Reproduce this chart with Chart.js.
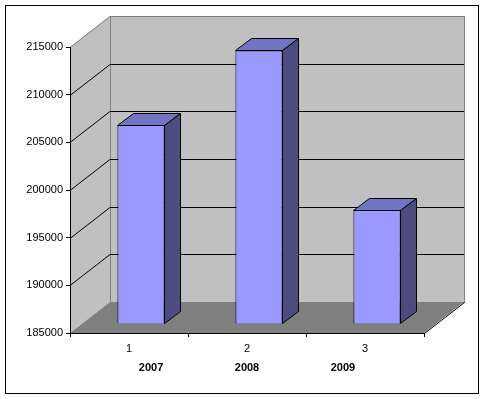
<!DOCTYPE html>
<html>
<head>
<meta charset="utf-8">
<script src="https://cdn.jsdelivr.net/npm/chart.js@4.4.0/dist/chart.umd.min.js"></script>
<style>
body { margin: 0; background: #fff; }
canvas { display: block; }
</style>
</head>
<body>
<canvas id="chart_test" width="485" height="399"></canvas>
<script>
// DATA
var categories = ['1', '2', '3'];
var years = [2007, 2008, 2009];
var totals = [205850, 213700, 196950];
var yMin = 185000, yMax = 215000, yStep = 5000;

// 3D LOOK: wall depth, bar offset in depth, bar depth
var WALL = { dx: 40, dy: -31 };
var BAR_OFF = { dx: 12, dy: -9 };
var BAR_D = { dx: 16, dy: -12 };

Chart.defaults.font.family = '"Liberation Sans", Arial, sans-serif';
Chart.defaults.font.size = 11;
Chart.defaults.color = '#000';

// walls + floor behind everything, extra bar faces after the bars
var box3d = {
	id: 'box3d',
	beforeDraw: function(chart) {
		var ctx = chart.ctx, a = chart.chartArea, ys = chart.scales.y;
		var L = a.left, R = a.right, T = a.top, B = a.bottom;
		var dx = WALL.dx, dy = WALL.dy;
		ctx.save();
		ctx.fillStyle = '#fff';
		ctx.fillRect(0, 0, chart.width, chart.height);
		ctx.strokeStyle = '#000';
		ctx.lineWidth = 1;
		ctx.strokeRect(5.5, 5.5, 473, 388);

		// back wall
		ctx.fillStyle = '#c0c0c0';
		ctx.fillRect(L + dx, T + dy, R - L, B - T);
		ctx.strokeStyle = '#808080';
		ctx.strokeRect(L + dx + 0.5, T + dy + 0.5, R - L, B - T);

		// side wall
		ctx.beginPath();
		ctx.moveTo(L, T);
		ctx.lineTo(L + dx, T + dy);
		ctx.lineTo(L + dx, B + dy);
		ctx.lineTo(L, B);
		ctx.closePath();
		ctx.fill();
		ctx.beginPath();
		ctx.moveTo(L, T + 0.5);
		ctx.lineTo(L + dx, T + dy + 0.5);
		ctx.stroke();
		ctx.beginPath();
		ctx.moveTo(L + dx + 0.5, T + dy);
		ctx.lineTo(L + dx + 0.5, B + dy);
		ctx.stroke();

		// gridlines
		ctx.strokeStyle = '#000';
		for (var v = yMin + yStep; v < yMax; v += yStep) {
			var y = Math.round(ys.getPixelForValue(v)) + 0.5;
			ctx.beginPath();
			ctx.moveTo(L, y);
			ctx.lineTo(L + dx, y + dy);
			ctx.lineTo(R + dx, y + dy);
			ctx.stroke();
		}

		// floor
		ctx.fillStyle = '#808080';
		ctx.beginPath();
		ctx.moveTo(L, B);
		ctx.lineTo(L + dx, B + dy);
		ctx.lineTo(R + dx, B + dy);
		ctx.lineTo(R, B);
		ctx.closePath();
		ctx.fill();
		ctx.beginPath();
		ctx.moveTo(R + 0.5, B + 0.5);
		ctx.lineTo(R + dx + 0.5, B + dy + 0.5);
		ctx.stroke();
		ctx.restore();
	},
	beforeDatasetsDraw: function(chart) {
		chart.ctx.save();
		chart.ctx.translate(BAR_OFF.dx, BAR_OFF.dy);
	},
	afterDatasetsDraw: function(chart) {
		var ctx = chart.ctx;
		ctx.strokeStyle = '#000';
		ctx.lineWidth = 1;
		chart.getDatasetMeta(0).data.forEach(function(bar) {
			var p = bar.getProps(['x', 'y', 'base', 'width'], true);
			var l = Math.round(p.x - p.width / 2) + 0.5, r = Math.round(p.x + p.width / 2) - 0.5;
			var t = Math.round(p.y) + 0.5, b = Math.round(p.base) - 0.5;
			// top
			ctx.fillStyle = '#7474c4';
			ctx.beginPath();
			ctx.moveTo(l, t);
			ctx.lineTo(l + BAR_D.dx, t + BAR_D.dy);
			ctx.lineTo(r + BAR_D.dx, t + BAR_D.dy);
			ctx.lineTo(r, t);
			ctx.closePath();
			ctx.fill();
			ctx.stroke();
			// side
			ctx.fillStyle = '#4c4c80';
			ctx.beginPath();
			ctx.moveTo(r, t);
			ctx.lineTo(r + BAR_D.dx, t + BAR_D.dy);
			ctx.lineTo(r + BAR_D.dx, b + BAR_D.dy);
			ctx.lineTo(r, b);
			ctx.closePath();
			ctx.fill();
			ctx.stroke();
		});
		ctx.restore();
	}
};

var ctx = document.getElementById('chart_test').getContext('2d');
var chart = new Chart(ctx, {
	type: 'bar',
	data: {
		labels: categories,
		datasets: [{
			data: totals,
			base: yMin,
			backgroundColor: '#9999ff',
			borderColor: '#000',
			borderWidth: 1,
			barPercentage: 0.4,
			categoryPercentage: 1,
			clip: false
		}]
	},
	options: {
		responsive: false,
		animation: false,
		layout: { padding: { left: 10, top: 47, right: 61, bottom: 14 } },
		plugins: { legend: { display: false }, tooltip: { enabled: false } },
		scales: {
			y: {
				min: yMin,
				max: yMax,
				ticks: { stepSize: yStep, padding: 3, callback: function(v) { return String(v); } },
				grid: { drawOnChartArea: false, tickLength: 4, color: '#000' },
				border: { color: '#000' },
				afterFit: function(s) { s.width = 60; }
			},
			x: {
				weight: 0,
				ticks: { padding: 5 },
				grid: { drawOnChartArea: false, tickLength: 4, color: '#000', offset: true },
				border: { color: '#000' },
				afterFit: function(s) { s.height = 22; }
			},
			// year row sits on its own scale, spaced closer than the categories
			x2: {
				type: 'linear',
				position: 'bottom',
				weight: 1,
				offset: false,
				bounds: 'data',
				min: years[1] - 1.844,
				max: years[1] + 1.844,
				afterBuildTicks: function(s) {
					s.ticks = years.map(function(y) { return { value: y }; });
				},
				ticks: {
					autoSkip: false,
					maxRotation: 0,
					padding: 6,
					font: { weight: 'bold' },
					callback: function(v) { return String(v); }
				},
				grid: { display: false, drawTicks: false, offset: false },
				border: { display: false },
				afterFit: function(s) { s.height = 30; }
			}
		}
	},
	plugins: [box3d]
});
</script>
</body>
</html>
